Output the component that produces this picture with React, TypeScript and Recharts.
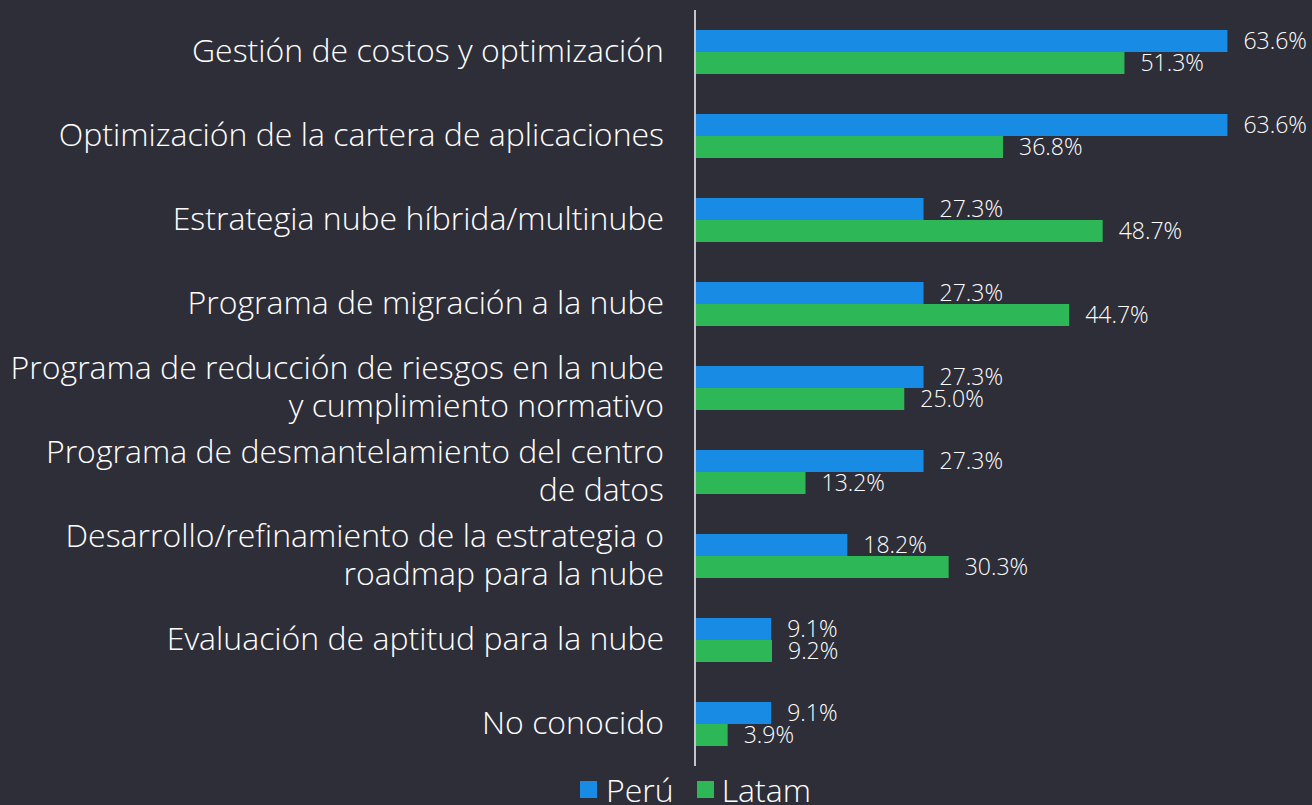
import React from 'react';
import { BarChart, Bar, XAxis, YAxis, Legend, LabelList } from 'recharts';

const categories = [
  'Gestión de costos y optimización',
  'Optimización de la cartera de aplicaciones',
  'Estrategia nube híbrida/multinube',
  'Programa de migración a la nube',
  'Programa de reducción de riesgos en la nube\ny cumplimiento normativo',
  'Programa de desmantelamiento del centro\nde datos',
  'Desarrollo/refinamiento de la estrategia o\nroadmap para la nube',
  'Evaluación de aptitud para la nube',
  'No conocido',
];
const peru = [63.6, 63.6, 27.3, 27.3, 27.3, 27.3, 18.2, 9.1, 9.1];
const latam = [51.3, 36.8, 48.7, 44.7, 25.0, 13.2, 30.3, 9.2, 3.9];
const seriesNames = ['Perú', 'Latam'];
const colors = ['#188ce5', '#2db757'];

const data = categories.map((c, i) => ({ name: c, peru: peru[i], latam: latam[i] }));

const BG = '#2e2e38';
const FONT = '"Open Sans", Roboto, sans-serif';

const Tick = (props: any) => {
  const { x, y, payload } = props;
  const lines = String(payload.value).split('\n');
  const lh = 38;
  const start = -((lines.length - 1) * lh) / 2 + 10;
  return (
    <text x={x} y={y} textAnchor="end" fill="#ffffff" fontSize={32} fontWeight={300} fontFamily={FONT}>
      {lines.map((l, i) => (
        <tspan key={i} x={x} dy={i === 0 ? start : lh}>{l}</tspan>
      ))}
    </text>
  );
};

const LegendContent = () => (
  <div style={{ display: 'flex', justifyContent: 'center', alignItems: 'center', height: 39, fontFamily: FONT, fontWeight: 300, fontSize: 32, color: '#ffffff', lineHeight: '32px', paddingTop: 8, boxSizing: 'border-box', paddingLeft: 110 }}>
    {seriesNames.map((n, i) => (
      <div key={n} style={{ display: 'flex', alignItems: 'center', marginRight: i === 0 ? 23 : 0 }}>
        <span style={{ width: 17, height: 17, background: colors[i], display: 'inline-block', marginRight: i === 0 ? 9 : 8 }} />
        <span>{n}</span>
      </div>
    ))}
  </div>
);

const fmt = (v: any) => `${Number(v).toFixed(1)}%`;

export default function App() {
  return (
    <div style={{ position: 'absolute', left: 0, top: 0, width: 1312, height: 805, background: BG, overflow: 'hidden' }}>
      <BarChart
        width={1312}
        height={805}
        data={data}
        layout="vertical"
        margin={{ top: 10, right: 31, bottom: 0, left: 0 }}
        barCategoryGap={20}
        barGap={0}
      >
        <XAxis type="number" domain={[0, 70]} hide />
        <YAxis
          type="category"
          dataKey="name"
          width={695}
          tick={<Tick />}
          tickLine={false}
          axisLine={{ stroke: '#c4c4cd', strokeWidth: 2 }}
          tickMargin={25}
          interval={0}
        />
        <Legend verticalAlign="bottom" height={39} content={<LegendContent />} />
        <Bar dataKey="peru" name="Perú" fill={colors[0]} barSize={22} isAnimationActive={false}>
          <LabelList dataKey="peru" position="right" offset={16} fill="#ffffff" fontSize={23} fontFamily={FONT} fontWeight={300} formatter={fmt} />
        </Bar>
        <Bar dataKey="latam" name="Latam" fill={colors[1]} barSize={22} isAnimationActive={false}>
          <LabelList dataKey="latam" position="right" offset={16} fill="#ffffff" fontSize={23} fontFamily={FONT} fontWeight={300} formatter={fmt} />
        </Bar>
      </BarChart>
    </div>
  );
}
